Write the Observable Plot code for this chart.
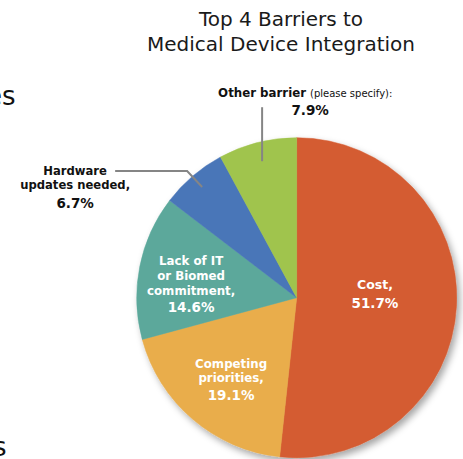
<!DOCTYPE html>
<html>
<head>
<meta charset="utf-8">
<script src="https://cdn.jsdelivr.net/npm/d3@7"></script>
<script src="https://cdn.jsdelivr.net/npm/@observablehq/plot@0.6"></script>
<style>
  html, body { margin: 0; padding: 0; background: #fff; }
  #wrap { position: relative; width: 463px; height: 459px; overflow: hidden; font-family: "DejaVu Sans", Verdana, sans-serif; }
  #chart { position: absolute; left: 0; top: 0; }
  .title { position: absolute; left: 80px; width: 402px; text-align: center; font-size: 20px; color: #1a1a1a; line-height: 25px; top: 7px; }
  .frag { position: absolute; font-size: 26px; color: #111; line-height: 1; }
</style>
</head>
<body>
<div id="wrap">
  <div id="chart"></div>
  <div class="title">Top 4 Barriers to<br>Medical Device Integration</div>
  <div class="frag" style="left:-14px; top:83px;">es</div>
  <div class="frag" style="left:-7px; top:434px;">s</div>
</div>
<script>
const categories = ["Cost", "Competing priorities", "Lack of IT or Biomed commitment", "Hardware updates needed", "Other barrier"];
const values = [51.7, 19.1, 14.6, 6.7, 7.9];
const colors = ["#D45B30", "#E9AD4B", "#5BA89B", "#4A76B8", "#A0C44D"];
const nameLabels = [["Cost,"], ["Competing", "priorities,"], ["Lack of IT", "or Biomed", "commitment,"], ["Hardware", "updates needed,"], ["Other barrier"]];
const pctLabels = values.map(v => v.toFixed(1) + "%");

const data = categories.map((c, i) => ({category: c, value: values[i], color: colors[i], name: nameLabels[i], pct: pctLabels[i]}));

// pie angles (clockwise from 12 o'clock), kept in data order
const arcs = d3.pie().sort(null).value(d => d.value)(data);
arcs.forEach(a => { a.mid = (a.startAngle + a.endAngle) / 2; });
const polar = (a, r) => [r * Math.sin(a), r * Math.cos(a)];

// label anchors along each slice's mid-angle
const labelRadius = [0.49, 0.66, 0.66, 0.91, 0.88];
const anchors = arcs.map((a, i) => {
  const [x, y] = polar(a.mid, labelRadius[i]);
  return {...a.data, x, y, i};
});

const FONT = "DejaVu Sans, Verdana, sans-serif";

const pieMark = (index, scales) => {
  const sx = scales.x, sy = scales.y;
  const cx = sx(0), cy = sy(0), R = sx(1) - sx(0);
  const g = d3.create("svg:g").attr("text-anchor", "start");
  const defs = g.append("defs");
  const f = defs.append("filter").attr("id", "pieshadow").attr("x", "-20%").attr("y", "-20%").attr("width", "140%").attr("height", "140%");
  f.append("feDropShadow").attr("dx", 3).attr("dy", 4).attr("stdDeviation", 3.5).attr("flood-color", "#000").attr("flood-opacity", 0.35);
  const arc = d3.arc().innerRadius(0).outerRadius(R);
  const pg = g.append("g").attr("transform", `translate(${cx},${cy})`).attr("filter", "url(#pieshadow)");
  pg.selectAll("path").data(arcs).join("path")
    .attr("d", arc).attr("fill", d => d.data.color)
    .attr("stroke", d => d.data.color).attr("stroke-width", 0.5);

  // inside labels (white, bold)
  const insideStyle = [
    {dx: 0, lines: [-13], pct: 6, fs: 12.5},
    {dx: 3, lines: [-10, 4], pct: 22, fs: 11.8},
    {dx: -2, lines: [-12, 3, 18], pct: 35, fs: 11.8}
  ];
  insideStyle.forEach((st, i) => {
    const d = anchors[i];
    const px = sx(d.x) + st.dx, py = sy(d.y);
    const t = g.append("text").attr("font-family", FONT).attr("fill", "#fff")
      .attr("font-weight", "bold").attr("text-anchor", "middle");
    d.name.forEach((ln, k) => t.append("tspan").attr("x", px).attr("y", py + st.lines[k]).attr("font-size", st.fs).text(ln));
    t.append("tspan").attr("x", px).attr("y", py + st.pct).attr("font-size", 13.5).text(d.pct);
  });

  // leader lines
  const hw = anchors[3], ot = anchors[4];
  const hx = sx(hw.x), hy = sy(hw.y);
  g.append("path").attr("d", `M${hx},${hy}L${hx - 15},${hy - 16}L${hx - 87},${hy - 16}`)
    .attr("fill", "none").attr("stroke", "#858585").attr("stroke-width", 2);
  const ox = sx(ot.x), oy = sy(ot.y);
  g.append("path").attr("d", `M${ox},${oy}L${ox},${oy - 54}`)
    .attr("fill", "none").attr("stroke", "#858585").attr("stroke-width", 2);

  // outside labels
  const t1 = g.append("text").attr("font-family", FONT).attr("fill", "#111").attr("text-anchor", "middle").attr("font-weight", "bold");
  t1.append("tspan").attr("x", hx - 127).attr("y", hy - 12).attr("font-size", 11.6).text(hw.name[0]);
  t1.append("tspan").attr("x", hx - 127).attr("y", hy + 2).attr("font-size", 11.6).text(hw.name[1]);
  t1.append("tspan").attr("x", hx - 127).attr("y", hy + 21).attr("font-size", 13.5).text(hw.pct);
  const t2 = g.append("text").attr("font-family", FONT).attr("fill", "#111").attr("text-anchor", "start");
  t2.append("tspan").attr("x", ox - 44).attr("y", oy - 64).attr("font-weight", "bold").attr("font-size", 11.8).text(ot.name[0]);
  t2.append("tspan").attr("font-size", 10).attr("dx", 4).text("(please specify):");
  g.append("text").attr("font-family", FONT).attr("fill", "#111")
    .attr("text-anchor", "middle").attr("x", ox + 48).attr("y", oy - 46)
    .attr("font-weight", "bold").attr("font-size", 13.5).text(ot.pct);
  return g.node();
};

const plot = Plot.plot({
  width: 463,
  height: 459,
  margin: 0,
  x: {domain: [-1, 1], range: [136.7, 456.7], axis: null},
  y: {domain: [-1, 1], range: [457.7, 137.7], axis: null},
  style: {fontFamily: FONT, background: "transparent"},
  marks: [
    // invisible anchors so the x/y scales exist for the pie renderer
    Plot.dot(anchors, {x: "x", y: "y", r: 0, fill: "none", stroke: "none"}),
    pieMark
  ]
});
document.getElementById("chart").appendChild(plot);
</script>
</body>
</html>
